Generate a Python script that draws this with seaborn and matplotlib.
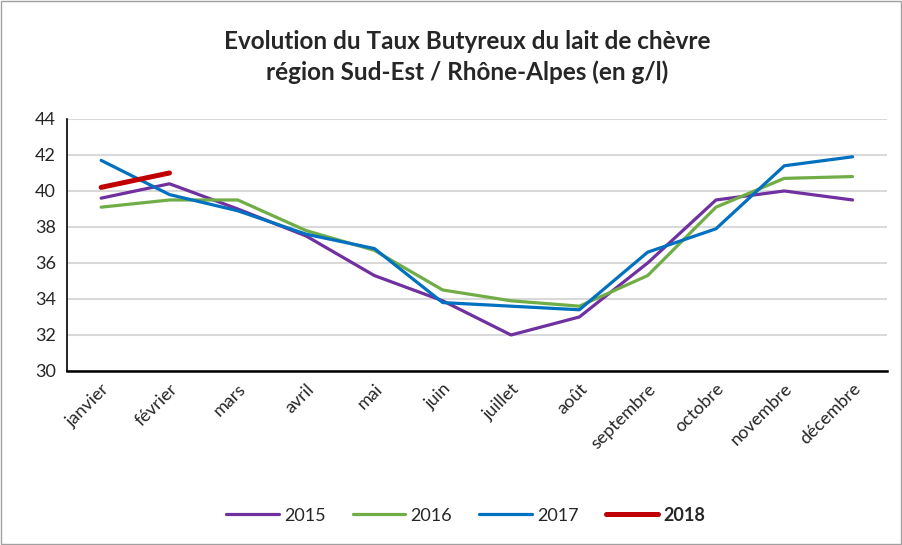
import numpy as np
import pandas as pd
import matplotlib
matplotlib.use('Agg')
import matplotlib.pyplot as plt
import seaborn as sns
from matplotlib.patches import Rectangle

mois = ['janvier', 'février', 'mars', 'avril', 'mai', 'juin', 'juillet',
        'août', 'septembre', 'octobre', 'novembre', 'décembre']
tb_2015 = [39.6, 40.4, 39.0, 37.5, 35.3, 33.9, 32.0, 33.0, 36.0, 39.5, 40.0, 39.5]
tb_2016 = [39.1, 39.5, 39.5, 37.8, 36.7, 34.5, 33.9, 33.6, 35.3, 39.1, 40.7, 40.8]
tb_2017 = [41.7, 39.8, 38.9, 37.6, 36.8, 33.8, 33.6, 33.4, 36.6, 37.9, 41.4, 41.9]
tb_2018 = [40.2, 41.0]

annees = ['2015', '2016', '2017', '2018']
couleurs = {'2015': '#7030A0', '2016': '#70AD47', '2017': '#0070C0', '2018': '#C00000'}
epaisseurs = {'2015': 2.3, '2016': 2.3, '2017': 2.3, '2018': 3.6}

rows = []
for annee, vals in zip(annees, [tb_2015, tb_2016, tb_2017, tb_2018]):
    for m, v in zip(mois, vals):
        rows.append({'mois': m, 'annee': annee, 'tb': v})
df = pd.DataFrame(rows)
df['x'] = df['mois'].map({m: i for i, m in enumerate(mois)})

sns.set_style('white')
plt.rcParams['font.family'] = ['Lato', 'DejaVu Sans']

fig = plt.figure(figsize=(9.03, 5.45), dpi=100)
ax = fig.add_axes([0.0742, 0.3193, 0.9078, 0.4624])

sns.lineplot(data=df, x='x', y='tb', hue='annee', size='annee',
             sizes=epaisseurs, palette=couleurs, hue_order=annees,
             sort=False, legend=False, ax=ax, solid_capstyle='round')

ax.set_xlim(-0.5, 11.5)
ax.set_ylim(30, 44)
ax.set_yticks(np.arange(30, 45, 2))
ax.set_xticks(range(len(mois)))
ax.set_xticklabels(mois, rotation=45, ha='right', rotation_mode='anchor', fontsize=13)
ax.tick_params(axis='y', labelsize=13, length=0, pad=8)
ax.tick_params(axis='x', length=0, pad=7)
ax.set_xlabel('')
ax.set_ylabel('')
ax.grid(axis='y', color='#d9d9d9', linewidth=1.5)
ax.set_axisbelow(True)
for s in ['top', 'right']:
    ax.spines[s].set_visible(False)
ax.spines['left'].set_color('black')
ax.spines['left'].set_linewidth(1.2)
ax.spines['bottom'].set_color('black')
ax.spines['bottom'].set_linewidth(1.8)

fig.text(0.517, 0.895, 'Evolution du Taux Butyreux du lait de chèvre\nrégion Sud-Est / Rhône-Alpes (en g/l)',
         ha='center', va='center', fontsize=17.5, fontweight='bold', linespacing=1.35)

handles = [plt.Line2D([], [], color=couleurs[a], linewidth=epaisseurs[a], solid_capstyle='round')
           for a in annees]
leg = fig.legend(handles, annees, loc='center', bbox_to_anchor=(0.516, 0.055), ncol=4,
                 frameon=False, fontsize=13, handlelength=2.9, handletextpad=0.3,
                 columnspacing=1.5)
leg.get_texts()[-1].set_fontweight('bold')

fig.patches.append(Rectangle((0.001, 0.002), 0.997, 0.996, transform=fig.transFigure,
                             fill=False, edgecolor='#a0a0a0', linewidth=1))

fig.savefig('out.png', dpi=100)
